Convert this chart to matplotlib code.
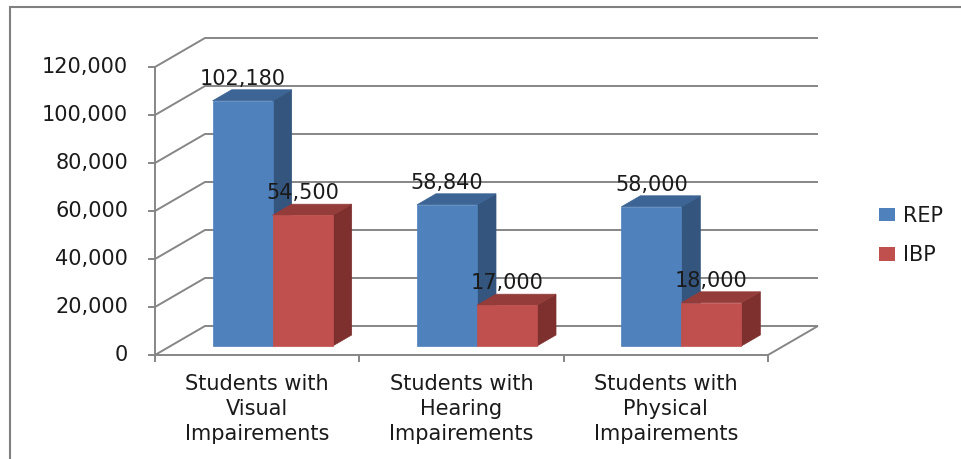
import matplotlib
matplotlib.use("Agg")
import matplotlib.pyplot as plt
from matplotlib.patches import Polygon, Rectangle, Patch

categories = ["Students with\nVisual\nImpairements",
              "Students with\nHearing\nImpairements",
              "Students with\nPhysical\nImpairements"]
series = ["REP", "IBP"]
rep_values = [102180, 58840, 58000]
ibp_values = [54500, 17000, 18000]
y_ticks = [0, 20000, 40000, 60000, 80000, 100000, 120000]

# face colours per series: front, top, side
face_colors = {
    "REP": ("#4F81BD", "#3C6494", "#34557E"),
    "IBP": ("#C0504D", "#943C3A", "#7E302E"),
}
grid_color = "#868686"
text_color = "#1a1a1a"
font_size = 15

W, H = 961, 459
fig = plt.figure(figsize=(W / 100, H / 100), dpi=100)
ax = fig.add_axes([0, 0, 1, 1])
ax.axis("off")

# front plane of the box: categories 0..3 and values 0..120000 in pixel space
left_px, right_px = 155, 768
zero_px, top_px = 355, 67
sx = (right_px - left_px) / len(categories)      # px per category
sy = (zero_px - top_px) / y_ticks[-1]             # px per value unit
ax.set_xlim(-left_px / sx, (W - left_px) / sx)
ax.set_ylim(-(H - zero_px) / sy, zero_px / sy)

# oblique depth of the box
DX = 50 / sx
DY = 29 / sy


def proj(x, v, d):
    return (x + d * DX, v + d * DY)


n = len(categories)
line_kw = dict(color=grid_color, lw=1.4, solid_capstyle="butt", zorder=1)

# gridlines: left wall diagonal then back wall
for v in y_ticks:
    p0, p1, p2 = proj(0, v, 0), proj(0, v, 1), proj(n, v, 1)
    ax.plot([p0[0], p1[0], p2[0]], [p0[1], p1[1], p2[1]], **line_kw)

# floor front edge and right edge
f0, f1, f2 = proj(0, 0, 0), proj(n, 0, 0), proj(n, 0, 1)
ax.plot([f0[0], f1[0], f2[0]], [f0[1], f1[1], f2[1]], **line_kw)

# vertical value axis and ticks
tick_x = 7 / sx
tick_y = 7 / sy
ax.plot([0, 0], [-tick_y, y_ticks[-1]], **line_kw)
for v in y_ticks:
    ax.plot([-tick_x, 0], [v, v], **line_kw)
    ax.text(-27 / sx, v, f"{v:,}", ha="right", va="center",
            fontsize=font_size, color=text_color)
for i in range(1, n + 1):
    ax.plot([i, i], [0, -tick_y], **line_kw)

# category labels
for i, cat in enumerate(categories):
    ax.text(i + 0.5, -19 / sy, cat, ha="center", va="top", fontsize=font_size,
            color=text_color, linespacing=1.32)

# bars
bar_w = 60 / sx
margin = (1 - 2 * bar_w) / 2
d0, d1 = 0.31, 0.69
values = {"REP": rep_values, "IBP": ibp_values}
for i in range(n):
    for j, s in enumerate(series):
        v = values[s][i]
        front, top, side = face_colors[s]
        x0 = i + margin + j * bar_w
        x1 = x0 + bar_w
        faces = [
            ([proj(x1, 0, d0), proj(x1, 0, d1), proj(x1, v, d1), proj(x1, v, d0)], side),
            ([proj(x0, v, d0), proj(x1, v, d0), proj(x1, v, d1), proj(x0, v, d1)], top),
            ([proj(x0, 0, d0), proj(x1, 0, d0), proj(x1, v, d0), proj(x0, v, d0)], front),
        ]
        for pts, c in faces:
            ax.add_patch(Polygon(pts, closed=True, facecolor=c, edgecolor=c,
                                 lw=0.5, zorder=3))
        lx, ly = proj((x0 + x1) / 2, v, d0)
        ax.text(lx, ly + 22 / sy, f"{v:,}", ha="center", va="center",
                fontsize=font_size, color=text_color, zorder=5)

# legend
handles = [Patch(facecolor=face_colors[s][0], edgecolor="none") for s in series]
fig.legend(handles, series, loc="center left",
           bbox_to_anchor=(869 / W, 1 - 235.5 / H), frameon=False,
           fontsize=font_size, handlelength=0.75, handleheight=0.6,
           handletextpad=0.4, labelspacing=0.95, borderpad=0,
           labelcolor=text_color)

# outer chart border (right and bottom edges fall outside the canvas)
fig.patches.append(Rectangle((10 / W, -0.05), 1.1, (H - 7) / H + 0.05,
                             transform=fig.transFigure, fill=False,
                             edgecolor="#808080", lw=1.5))

fig.savefig("out.png", dpi=100)
